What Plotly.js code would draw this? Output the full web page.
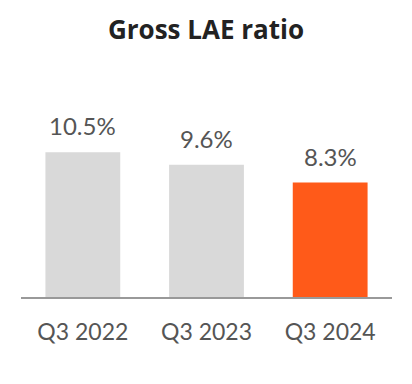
<!DOCTYPE html>
<html>
<head>
<meta charset="utf-8">
<script src="https://cdn.plot.ly/plotly-3.0.1.min.js"></script>
<style>html,body{margin:0;padding:0;background:#fff;}#chart{width:412px;height:384px;}</style>
</head>
<body>
<div id="chart"></div>
<script>
const categories = ["Q3 2022", "Q3 2023", "Q3 2024"];
const values = [10.5, 9.6, 8.3];
const labels = ["10.5%", "9.6%", "8.3%"];
const colors = ["#d9d9d9", "#d9d9d9", "#ff5a19"];

const trace = {
  type: "bar",
  x: categories,
  y: values,
  marker: { color: colors },
  width: 0.605,
  hoverinfo: "skip"
};

const annotations = categories.map((c, i) => ({
  x: c, y: values[i], text: labels[i], showarrow: false,
  yanchor: "bottom", yshift: 10,
  font: { family: "Lato, sans-serif", size: 24, color: "#555555" }
}));

const layout = {
  width: 412, height: 384,
  margin: { l: 21, r: 20, t: 104, b: 87 },
  paper_bgcolor: "#ffffff", plot_bgcolor: "#ffffff",
  title: {
    text: "<b>Gross LAE ratio</b>",
    x: 0.5, xanchor: "center", yref: "container", y: 0.945, yanchor: "top",
    pad: { t: 0 },
    font: { family: "Open Sans, sans-serif", size: 26, color: "#222222" }
  },
  showlegend: false,
  xaxis: {
    type: "category", range: [-0.5, 2.5],
    showline: true, linecolor: "#999999", linewidth: 2,
    showgrid: false, zeroline: false, ticks: "",
    ticklabelstandoff: 13,
    tickfont: { family: "Lato, sans-serif", size: 23, color: "#555555" }
  },
  yaxis: {
    range: [0, 14], visible: false, showgrid: false, zeroline: false
  },
  annotations: annotations
};

Plotly.newPlot("chart", [trace], layout, { displayModeBar: false, staticPlot: true });
</script>
</body>
</html>
